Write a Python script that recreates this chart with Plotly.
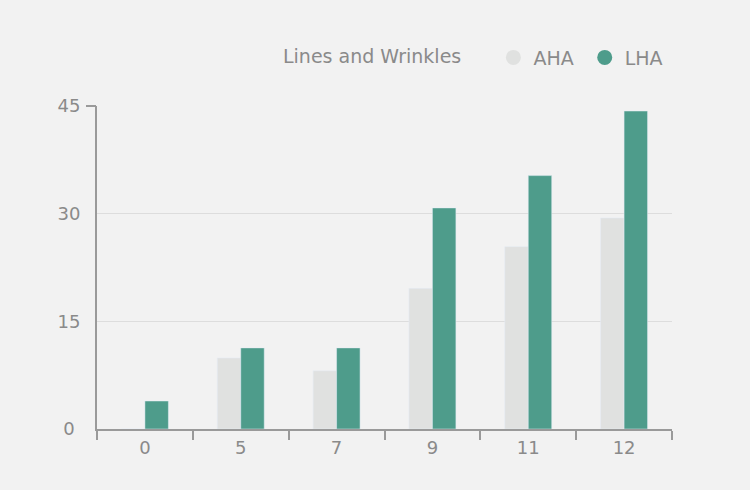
import plotly.graph_objects as go

categories = ["0", "5", "7", "9", "11", "12"]
aha = [0, 9.9, 8.1, 19.6, 25.4, 29.4]
lha = [3.9, 11.3, 11.3, 30.8, 35.3, 44.3]
y_ticks = [0, 15, 30, 45]
y_ticktext = ["0 ", "15", "30", "45"]
legend_title = "Lines and Wrinkles"

AHA_COLOR = "#e0e1e0"
LHA_COLOR = "#4e9c8b"
TEXT = "#8a8a8a"
AXIS = "#9a9a9a"
FONT = "DejaVu Sans"
NBSP = "\u00a0"

fig = go.Figure()
fig.add_trace(go.Bar(x=categories, y=aha, name="AHA", marker_color=AHA_COLOR,
                     showlegend=False))
fig.add_trace(go.Bar(x=categories, y=lha, name="LHA", marker_color=LHA_COLOR,
                     showlegend=False))
# legend entries with circle symbols
fig.add_trace(go.Scatter(x=[None], y=[None], mode="markers", name="AHA" + NBSP,
                         marker=dict(symbol="circle", size=15, color=AHA_COLOR)))
fig.add_trace(go.Scatter(x=[None], y=[None], mode="markers", name="LHA",
                         marker=dict(symbol="circle", size=15, color=LHA_COLOR)))
# helper axis carrying only the top tick mark
fig.add_trace(go.Scatter(x=[None], y=[None], yaxis="y2", showlegend=False,
                         hoverinfo="skip"))

fig.update_layout(
    width=750, height=490,
    margin=dict(l=97, r=78, t=106, b=61),
    paper_bgcolor="#f2f2f2", plot_bgcolor="#f2f2f2",
    font=dict(family=FONT, size=18, color=TEXT),
    barmode="group", bargap=0.51, bargroupgap=0,
    showlegend=True,
    legend=dict(orientation="h", x=0.993, xanchor="right", y=1.15, yanchor="middle",
                title=dict(text=legend_title + NBSP * 4, side="left",
                           font=dict(size=19, color=TEXT)),
                font=dict(size=19, color=TEXT), bgcolor="rgba(0,0,0,0)",
                itemwidth=30, traceorder="normal"),
    xaxis=dict(type="category", tickson="boundaries", ticks="outside", ticklen=9,
               tickcolor=AXIS, tickwidth=2, showline=True, linecolor=AXIS, linewidth=2,
               showgrid=False, tickfont=dict(size=18, color=TEXT), ticklabelstandoff=1),
    yaxis=dict(range=[0, 45], tickvals=y_ticks, ticktext=y_ticktext, ticks="",
               showline=True, linecolor=AXIS, linewidth=2, showgrid=True,
               gridcolor="#dddddd", gridwidth=1, zeroline=False,
               tickfont=dict(size=18, color=TEXT), ticklabelstandoff=11),
    yaxis2=dict(range=[0, 45], overlaying="y", side="left", tickvals=[45],
                ticks="outside", ticklen=10, tickwidth=2, tickcolor=AXIS,
                showticklabels=False, showgrid=False, zeroline=False, showline=False),
)

fig.write_html("out.html")
